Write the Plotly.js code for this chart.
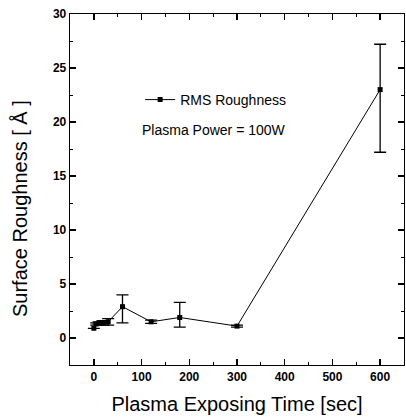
<!DOCTYPE html>
<html>
<head>
<meta charset="utf-8">
<script src="https://cdn.plot.ly/plotly-3.0.1.min.js"></script>
<style>html,body{margin:0;padding:0;background:#fff;}</style>
</head>
<body>
<div id="chart" style="width:406px;height:419px;"></div>
<script>
const timeSec = [0, 5, 10, 20, 30, 60, 120, 180, 300, 600];
const roughness = [0.9, 1.3, 1.4, 1.4, 1.5, 2.9, 1.5, 1.9, 1.1, 23.0];
const errPlus = [0, 0.1, 0.1, 0.2, 0.3, 1.1, 0.15, 1.4, 0.1, 4.2];
const errMinus = [0, 0.1, 0.1, 0.2, 0.3, 1.5, 0.15, 0.9, 0.1, 5.8];
const seriesName = "RMS Roughness";
const noteText = "Plasma Power = 100W";
const yTitle = "Surface Roughness [ Å ]";
const xTitle = "Plasma Exposing Time [sec]";

const font = "Liberation Sans, Arial, sans-serif";

const trace = {
  x: timeSec, y: roughness, name: seriesName,
  type: "scatter", mode: "lines+markers",
  line: {color: "#000", width: 1},
  marker: {symbol: "square", size: 5, color: "#000"},
  error_y: {type: "data", symmetric: false, array: errPlus, arrayminus: errMinus,
            color: "#000", thickness: 1.3, width: 6}
};

const axisCommon = {
  showline: true, linecolor: "#000", linewidth: 1.3, mirror: "ticks",
  ticks: "inside", ticklen: 6, tickwidth: 1.3, tickcolor: "#000",
  showgrid: false, zeroline: false,
  tickfont: {family: font, size: 12, color: "#000", weight: "bold"}
};

const layout = {
  width: 406, height: 419,
  margin: {l: 70, r: 2, t: 14, b: 54},
  paper_bgcolor: "#fff", plot_bgcolor: "#fff",
  showlegend: true,
  legend: {x: 0.21, y: 0.755, xanchor: "left", yanchor: "middle",
           bgcolor: "rgba(0,0,0,0)", font: {family: font, size: 14, color: "#000"}},
  xaxis: Object.assign({}, axisCommon, {
    range: [-50, 650], dtick: 100, tick0: 0,
    minor: {dtick: 50, ticklen: 3, tickwidth: 1, tickcolor: "#000", ticks: "inside"},
    title: {text: xTitle, font: {family: font, size: 20, color: "#000"}, standoff: 14}
  }),
  yaxis: Object.assign({}, axisCommon, {
    range: [-2.5, 30], dtick: 5, tick0: 0,
    minor: {dtick: 2.5, ticklen: 3, tickwidth: 1, tickcolor: "#000", ticks: "inside"}
  }),
  annotations: [{
    text: noteText, xref: "paper", yref: "paper", x: 0.21, y: 0.67,
    xanchor: "left", yanchor: "middle", showarrow: false,
    font: {family: font, size: 14, color: "#000"}
  }, {
    text: yTitle, xref: "paper", yref: "paper", x: -0.15, y: 0.447,
    xanchor: "center", yanchor: "middle", textangle: -90, showarrow: false,
    font: {family: font, size: 20, color: "#000"}
  }]
};

Plotly.newPlot("chart", [trace], layout, {displayModeBar: false, staticPlot: true});
</script>
</body>
</html>
